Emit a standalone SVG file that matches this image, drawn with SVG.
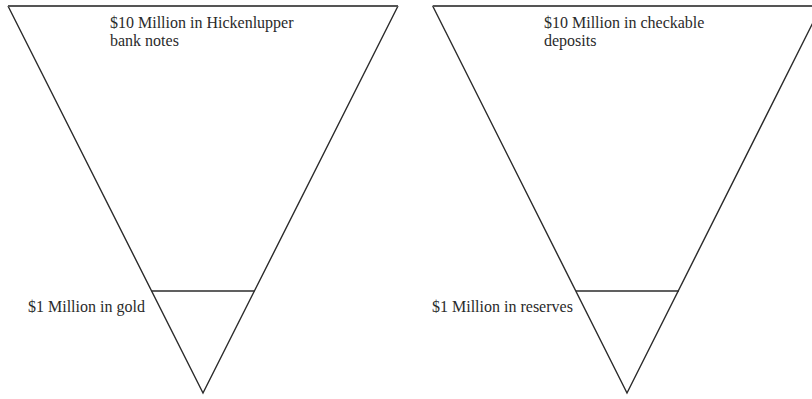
<svg xmlns="http://www.w3.org/2000/svg" width="812" height="399" viewBox="0 0 812 399">
<style>
.edge{fill:none;stroke:#2b2b2b;stroke-width:1.4;stroke-linejoin:miter}
.top{stroke:#555;stroke-width:2}
.lbl{font-family:"Liberation Serif","Times New Roman",serif;font-size:16px;fill:#2a2a2a}
</style>
<rect width="812" height="399" fill="#fff"/>
<g id="pyramid-left">
<polyline class="edge" points="8,6 203,393 398,6"/>
<line class="edge top" x1="8" y1="6" x2="398" y2="6"/>
<line class="edge" x1="151.5" y1="291" x2="254.5" y2="291"/>
<text class="lbl" x="110" y="27.5">$10 Million in Hickenlupper</text>
<text class="lbl" x="110" y="45.5">bank notes</text>
<text class="lbl" x="28" y="312">$1 Million in gold</text>
</g>
<g id="pyramid-right">
<polyline class="edge" points="432.7,6 627,393 821.3,6"/>
<line class="edge top" x1="432.7" y1="6" x2="812" y2="6"/>
<line class="edge" x1="576" y1="291" x2="679" y2="291"/>
<text class="lbl" x="544" y="27.5">$10 Million in checkable</text>
<text class="lbl" x="544" y="45.5">deposits</text>
<text class="lbl" x="432" y="312">$1 Million in reserves</text>
</g>
<g id="connectors"/>
</svg>
